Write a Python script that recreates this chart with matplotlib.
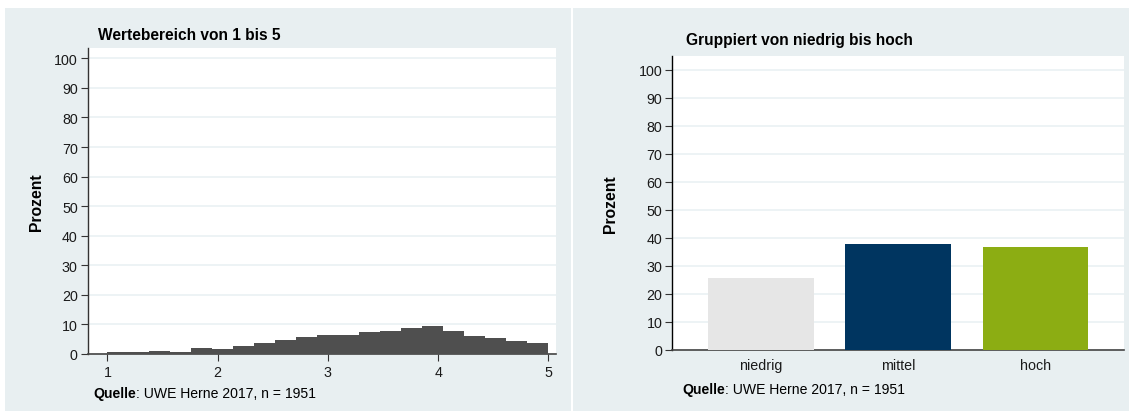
import numpy as np
import matplotlib.pyplot as plt
from matplotlib.patches import Rectangle

plt.rcParams['font.family'] = ['Liberation Sans', 'DejaVu Sans']

# --- data -------------------------------------------------------------
hist_pct = [0.8, 0.55, 1.0, 0.7, 2.0, 1.8, 2.7, 3.8, 4.7, 5.9, 6.4,
            6.4, 7.4, 7.8, 8.9, 9.5, 7.8, 6.2, 5.5, 4.3, 3.7]
hist_range = (1, 5)
group_labels = ["niedrig", "mittel", "hoch"]
group_pct = [25.6, 37.6, 36.8]
group_colors = ["#e6e6e6", "#003560", "#8cad13"]

title_left = "Wertebereich von 1 bis 5"
title_right = "Gruppiert von niedrig bis hoch"
source_note = ": UWE Herne 2017, n = 1951"

W, H = 1129, 414
BG = "#e8eff1"
GRID = "#eaf1f3"
TICK_FS = 10.3


def box(l, t, r, b):
    return [l / W, 1 - b / H, (r - l) / W, (b - t) / H]


def px(x, y):
    return x / W, 1 - y / H


fig = plt.figure(figsize=(W / 100, H / 100), dpi=100, facecolor="white")

# panel backgrounds
for l, r in [(5, 571), (573, 1129)]:
    fig.patches.append(Rectangle(px(l, 412), (r - l) / W, (412 - 9) / H,
                                 transform=fig.transFigure, facecolor=BG,
                                 edgecolor="none", zorder=-1))


def style_axes(ax, ylim_top):
    ax.set_ylim(0, ylim_top)
    ax.set_yticks(range(0, 101, 10))
    ax.set_facecolor("white")
    for s in ["top", "right"]:
        ax.spines[s].set_visible(False)
    ax.spines["left"].set_color("#333333")
    ax.spines["bottom"].set_color("#444444")
    ax.spines["left"].set_linewidth(1.0)
    ax.spines["bottom"].set_linewidth(1.2)
    ax.tick_params(axis="y", length=5, width=0.8, color="#333333",
                   labelsize=TICK_FS, pad=2, labelcolor="#1a1a1a")
    ax.yaxis.grid(True, color=GRID, lw=1.2)
    ax.set_axisbelow(True)


# --- left: histogram ----------------------------------------------------
ax1 = fig.add_axes(box(87.5, 49, 556, 355))
edges = np.linspace(hist_range[0], hist_range[1], len(hist_pct) + 1)
ax1.bar(edges[:-1], hist_pct, width=np.diff(edges), align="edge",
        color="#4f4f4f", edgecolor="none", zorder=3)
ax1.set_xlim(0.819, 5.07)
ax1.set_xticks([1, 2, 3, 4, 5])
style_axes(ax1, 103.5)
ax1.tick_params(axis="x", length=5, width=0.8, color="#333333",
                labelsize=TICK_FS, pad=3, labelcolor="#1a1a1a")

# --- right: grouped bars -------------------------------------------------
ax2 = fig.add_axes(box(672, 57, 1124, 350.5))
xpos = np.arange(len(group_labels))
ax2.bar(xpos, group_pct, width=0.77, color=group_colors, zorder=3)
ax2.set_xlim(-0.648, 2.645)
ax2.set_xticks(xpos)
ax2.set_xticklabels(group_labels)
style_axes(ax2, 105)
ax2.spines["left"].set_color("black")
ax2.tick_params(axis="x", length=0, labelsize=TICK_FS, pad=6, labelcolor="#1a1a1a")

# --- texts --------------------------------------------------------------
fig.text(*px(97.5, 35), title_left, fontsize=11.2, fontweight="bold",
         va="center", ha="left")
fig.text(*px(686, 40), title_right, fontsize=11.2, fontweight="bold",
         va="center", ha="left")
fig.text(*px(36, 202), "Prozent", fontsize=11.3, fontweight="bold",
         rotation=90, va="center", ha="center")
fig.text(*px(611, 204), "Prozent", fontsize=11.3, fontweight="bold",
         rotation=90, va="center", ha="center")

for x, y in [(93, 394), (682, 390)]:
    t = fig.text(*px(x, y), "Quelle", fontsize=10.1, fontweight="bold",
                 va="center", ha="left")
    ax2.annotate(source_note, xy=(1, 0.5), xycoords=t, fontsize=10.1,
                 va="center", ha="left", annotation_clip=False)

fig.savefig("out.png", dpi=100, facecolor="white")
